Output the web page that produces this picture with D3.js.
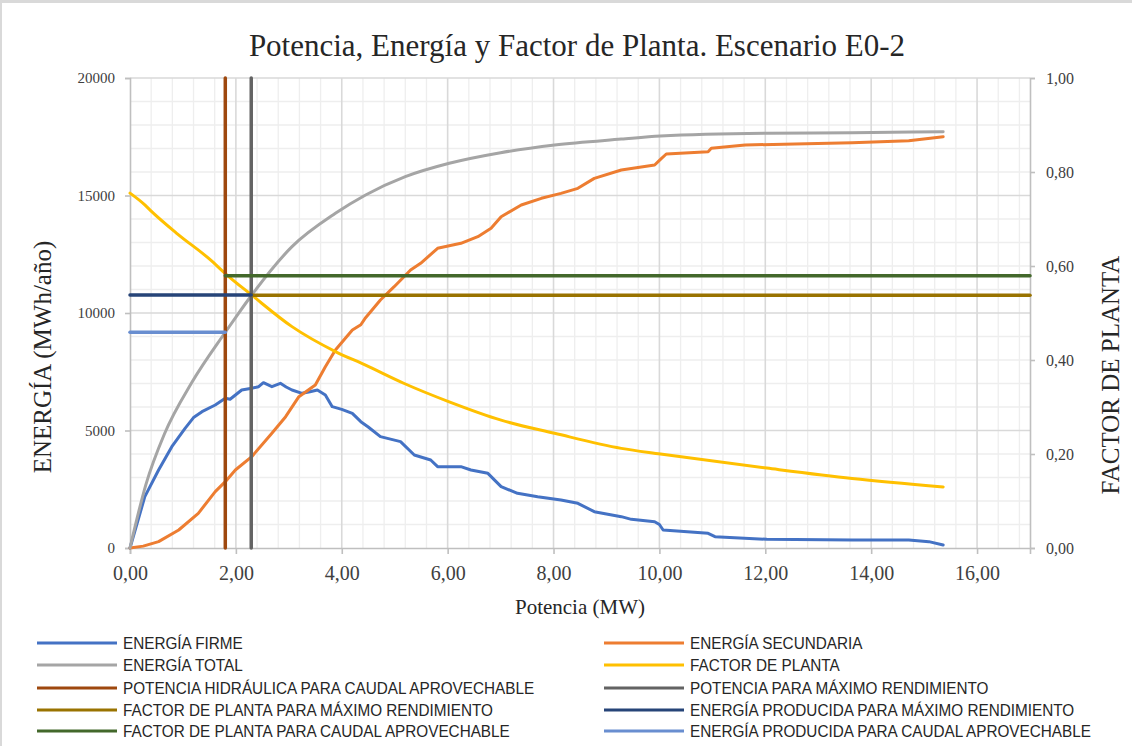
<!DOCTYPE html>
<html>
<head>
<meta charset="utf-8">
<script src="https://cdn.jsdelivr.net/npm/d3@7"></script>
<style>
  html, body { margin: 0; padding: 0; background: #fff; }
  svg { display: block; }
</style>
</head>
<body>
<svg id="chart" width="1132" height="746"></svg>
<script>
// ---- Data (Potencia en MW, Energía en MWh/año, Factor de planta 0-1) ----
const potFirme = [0, 0.28, 0.54, 0.79, 1.04, 1.20, 1.36, 1.61, 1.80, 1.89, 2.11, 2.30, 2.43, 2.52, 2.60, 2.68, 2.84, 2.95, 3.06, 3.25, 3.40, 3.54, 3.69, 3.82, 4.00, 4.20, 4.36, 4.50, 4.73, 5.11, 5.37, 5.68, 5.81, 6.25, 6.44, 6.76, 7.01, 7.32, 7.70, 8.14, 8.46, 8.77, 9.28, 9.47, 9.91, 10.00, 10.07, 10.92, 11.05, 12.03, 13.64, 14.71, 15.09, 15.36];
const energiaFirme = [0, 2184, 3319, 4312, 5092, 5550, 5801, 6085, 6369, 6330, 6723, 6800, 6865, 7035, 6950, 6865, 7007, 6850, 6723, 6582, 6650, 6723, 6511, 6014, 5900, 5731, 5376, 5150, 4738, 4525, 3957, 3745, 3461, 3461, 3319, 3177, 2610, 2326, 2184, 2043, 1901, 1546, 1333, 1220, 1120, 1000, 766, 624, 482, 369, 340, 340, 270, 128];

const potSecundaria = [0, 0.25, 0.54, 0.92, 1.29, 1.61, 1.80, 1.99, 2.30, 2.68, 2.94, 3.19, 3.50, 3.69, 3.88, 4.20, 4.36, 4.45, 4.73, 4.99, 5.30, 5.49, 5.81, 6.25, 6.57, 6.82, 7.01, 7.39, 7.77, 8.14, 8.46, 8.77, 9.28, 9.91, 10.02, 10.13, 10.92, 10.98, 11.62, 12.56, 13.64, 14.71, 15.36];
const energiaSecundaria = [0, 80, 270, 766, 1475, 2397, 2823, 3319, 3887, 4880, 5588, 6440, 6936, 7716, 8426, 9277, 9500, 9800, 10553, 11120, 11830, 12113, 12752, 12965, 13248, 13603, 14099, 14596, 14880, 15092, 15305, 15730, 16085, 16298, 16539, 16766, 16865, 17007, 17149, 17191, 17248, 17333, 17503];

const potTotal = [0, 0.30, 0.65, 1.17, 1.80, 2.05, 2.30, 3.06, 3.88, 4.45, 5.20, 6.03, 7.00, 8.02, 9.28, 10.02, 12.03, 13.64, 15.36];
const energiaTotal = [0, 2700, 4850, 7050, 9180, 9986, 10766, 12823, 14240, 15020, 15800, 16370, 16820, 17150, 17400, 17530, 17650, 17670, 17715];

const potFactor = [0, 0.28, 0.38, 0.90, 1.52, 1.80, 2.30, 3.06, 3.88, 4.45, 5.18, 6.03, 7.01, 8.02, 9.28, 10.02, 12.03, 13.64, 15.36];
const factorPlanta = [0.755, 0.730, 0.719, 0.668, 0.613, 0.584, 0.538, 0.471, 0.418, 0.389, 0.350, 0.311, 0.272, 0.244, 0.212, 0.200, 0.170, 0.148, 0.130];

// Valores de referencia
const potenciaCaudal = 1.80;          // Potencia hidráulica para caudal aprovechable (MW)
const potenciaMaxRend = 2.29;         // Potencia para máximo rendimiento (MW)
const factorMaxRend = 0.538;          // Factor de planta para máximo rendimiento
const energiaMaxRend = 10766;         // Energía producida para máximo rendimiento
const factorCaudal = 0.579;           // Factor de planta para caudal aprovechable
const energiaCaudal = 9180;           // Energía producida para caudal aprovechable

const xTicks = [0, 2, 4, 6, 8, 10, 12, 14, 16];
const yTicks = [0, 5000, 10000, 15000, 20000];
const y2Ticks = [0, 0.2, 0.4, 0.6, 0.8, 1.0];

const legendItems = [
  ["ENERGÍA FIRME", "#4472C4"],
  ["ENERGÍA SECUNDARIA", "#ED7D31"],
  ["ENERGÍA TOTAL", "#A5A5A5"],
  ["FACTOR DE PLANTA", "#FFC000"],
  ["POTENCIA HIDRÁULICA PARA CAUDAL APROVECHABLE", "#9E480E"],
  ["POTENCIA PARA MÁXIMO RENDIMIENTO", "#636363"],
  ["FACTOR DE PLANTA PARA MÁXIMO RENDIMIENTO", "#997300"],
  ["ENERGÍA PRODUCIDA PARA MÁXIMO RENDIMIENTO", "#264478"],
  ["FACTOR DE PLANTA PARA CAUDAL APROVECHABLE", "#43682B"],
  ["ENERGÍA PRODUCIDA PARA CAUDAL APROVECHABLE", "#698ED0"]
];
const colorOf = Object.fromEntries(legendItems);

// ---- Layout ----
const svg = d3.select("#chart");
const W = 1132, H = 746;
const plot = { left: 130, right: 1030, top: 78, bottom: 548 };
const serif = "'Liberation Serif', 'Times New Roman', serif";
const sans = "'Liberation Sans', Arial, sans-serif";

svg.append("rect").attr("width", W).attr("height", H).attr("fill", "#fff");
// chart frame (top and left edges)
svg.append("line").attr("x1", 0).attr("x2", W).attr("y1", 1.5).attr("y2", 1.5)
  .attr("stroke", "#d9d9d9").attr("stroke-width", 3);
svg.append("line").attr("x1", 1).attr("x2", 1).attr("y1", 0).attr("y2", H)
  .attr("stroke", "#d9d9d9").attr("stroke-width", 2);

const x = d3.scaleLinear().domain([0, 17]).range([plot.left, plot.right]);
const y = d3.scaleLinear().domain([0, 20000]).range([plot.bottom, plot.top]);
const y2 = d3.scaleLinear().domain([0, 1]).range([plot.bottom, plot.top]);

// ---- Gridlines ----
const grid = svg.append("g");
const minorX = d3.range(0, 17.0001, 0.4).filter(v => Math.abs(v / 2 - Math.round(v / 2)) > 1e-6);
const minorY = d3.range(0, 20001, 1000).filter(v => v % 5000 !== 0);
grid.selectAll(".mx").data(minorX).join("line")
  .attr("x1", d => x(d)).attr("x2", d => x(d)).attr("y1", plot.top).attr("y2", plot.bottom)
  .attr("stroke", "#eeeeee").attr("stroke-width", 1.3);
grid.selectAll(".my").data(minorY).join("line")
  .attr("x1", plot.left).attr("x2", plot.right).attr("y1", d => y(d)).attr("y2", d => y(d))
  .attr("stroke", "#eeeeee").attr("stroke-width", 1.3);
grid.selectAll(".Mx").data(xTicks.filter(d => d > 0)).join("line")
  .attr("x1", d => x(d)).attr("x2", d => x(d)).attr("y1", plot.top).attr("y2", plot.bottom)
  .attr("stroke", "#d9d9d9").attr("stroke-width", 1.6);
grid.selectAll(".My").data(yTicks.filter(d => d > 0)).join("line")
  .attr("x1", plot.left).attr("x2", plot.right).attr("y1", d => y(d)).attr("y2", d => y(d))
  .attr("stroke", "#d9d9d9").attr("stroke-width", 1.6);

// ---- Axes ----
const fmt2 = v => d3.format(".2f")(v).replace(".", ",");

const axLeft = svg.append("g").attr("transform", `translate(${plot.left},0)`)
  .call(d3.axisLeft(y).tickValues(yTicks).tickSize(5).tickPadding(10).tickFormat(d3.format("d")));
const axBottom = svg.append("g").attr("transform", `translate(0,${plot.bottom})`)
  .call(d3.axisBottom(x).tickValues(xTicks).tickSize(6).tickPadding(12).tickFormat(fmt2));
const axRight = svg.append("g").attr("transform", `translate(${plot.right},0)`)
  .call(d3.axisRight(y2).tickValues(y2Ticks).tickSize(5).tickPadding(11).tickFormat(fmt2));

[axLeft, axBottom, axRight].forEach(a => {
  a.select(".domain").attr("stroke", "#bfbfbf").attr("stroke-width", 1.6);
  a.selectAll(".tick line").attr("stroke", "#bfbfbf").attr("stroke-width", 1.6);
  a.selectAll(".tick text").attr("fill", "#404040").attr("font-family", serif);
});
axLeft.selectAll(".tick text").attr("font-size", 15);
axRight.selectAll(".tick text").attr("font-size", 16);
axBottom.selectAll(".tick text").attr("font-size", 20);

// ---- Series ----
const series = svg.append("g");
const lineE = d3.line().x(d => x(d[0])).y(d => y(d[1]));
const lineF = d3.line().x(d => x(d[0])).y(d => y2(d[1]));
const smoothE = d3.line().x(d => x(d[0])).y(d => y(d[1])).curve(d3.curveMonotoneX);
const smoothF = d3.line().x(d => x(d[0])).y(d => y2(d[1])).curve(d3.curveMonotoneX);

function drawSeries(xs, ys, gen, color, width) {
  series.append("path")
    .datum(d3.zip(xs, ys))
    .attr("d", gen)
    .attr("fill", "none")
    .attr("stroke", color)
    .attr("stroke-width", width)
    .attr("stroke-linejoin", "round")
    .attr("stroke-linecap", "round");
}

drawSeries(potFirme, energiaFirme, lineE, colorOf["ENERGÍA FIRME"], 3);
drawSeries(potSecundaria, energiaSecundaria, lineE, colorOf["ENERGÍA SECUNDARIA"], 3);
drawSeries(potTotal, energiaTotal, smoothE, colorOf["ENERGÍA TOTAL"], 3);
drawSeries(potFactor, factorPlanta, smoothF, colorOf["FACTOR DE PLANTA"], 3);

// Reference lines
drawSeries([potenciaCaudal, potenciaCaudal], [0, 20000], lineE,
  colorOf["POTENCIA HIDRÁULICA PARA CAUDAL APROVECHABLE"], 3.5);
drawSeries([potenciaMaxRend, potenciaMaxRend], [0, 20000], lineE,
  colorOf["POTENCIA PARA MÁXIMO RENDIMIENTO"], 3.5);
drawSeries([potenciaMaxRend, 17], [factorMaxRend, factorMaxRend], lineF,
  colorOf["FACTOR DE PLANTA PARA MÁXIMO RENDIMIENTO"], 3.5);
drawSeries([0, potenciaMaxRend], [energiaMaxRend, energiaMaxRend], lineE,
  colorOf["ENERGÍA PRODUCIDA PARA MÁXIMO RENDIMIENTO"], 3.5);
drawSeries([potenciaCaudal, 17], [factorCaudal, factorCaudal], lineF,
  colorOf["FACTOR DE PLANTA PARA CAUDAL APROVECHABLE"], 3.5);
drawSeries([0, potenciaCaudal], [energiaCaudal, energiaCaudal], lineE,
  colorOf["ENERGÍA PRODUCIDA PARA CAUDAL APROVECHABLE"], 3.5);

// ---- Titles ----
svg.append("text").attr("x", 577).attr("y", 56).attr("text-anchor", "middle")
  .attr("font-family", serif).attr("font-size", 31).attr("fill", "#262626")
  .text("Potencia, Energía y Factor de Planta. Escenario E0-2");

svg.append("text").attr("x", 580).attr("y", 614).attr("text-anchor", "middle")
  .attr("font-family", serif).attr("font-size", 21).attr("fill", "#262626")
  .text("Potencia (MW)");

svg.append("text").attr("transform", "translate(51,357) rotate(-90)").attr("text-anchor", "middle")
  .attr("font-family", serif).attr("font-size", 25).attr("fill", "#262626")
  .text("ENERGÍA  (MWh/año)");

svg.append("text").attr("transform", "translate(1119,375) rotate(-90)").attr("text-anchor", "middle")
  .attr("font-family", serif).attr("font-size", 25).attr("fill", "#262626")
  .text("FACTOR DE PLANTA");

// ---- Legend (condensed sans labels) ----
const legend = svg.append("g");
const colX = [37, 604];
const rowY = [643, 665, 688, 710, 731];
legendItems.forEach(([label, color], i) => {
  const cx = colX[i % 2], cy = rowY[Math.floor(i / 2)];
  legend.append("line").attr("x1", cx).attr("x2", cx + 80).attr("y1", cy).attr("y2", cy)
    .attr("stroke", color).attr("stroke-width", 3);
  legend.append("text")
    .attr("transform", `translate(${cx + 86},${cy}) scale(0.9,1)`)
    .attr("dy", "0.35em")
    .attr("font-family", sans).attr("font-size", 17).attr("fill", "#262626").text(label);
});
</script>
</body>
</html>
